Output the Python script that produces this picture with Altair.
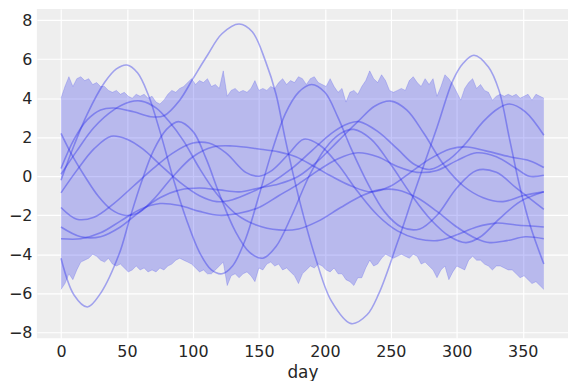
import altair as alt
import pandas as pd

# ---- band (noisy interval), one value every 3 days ----
band_days = list(range(0, 367, 3))
band_upper = [
    4.0, 4.6, 5.1, 4.6, 5.0, 5.1, 4.9, 5.0, 4.7, 4.8,
    4.6, 4.6, 4.4, 4.3, 4.4, 4.2, 4.3, 4.1, 4.0, 4.2,
    4.1, 4.2, 4.0, 4.1, 3.8, 3.7, 3.9, 4.2, 4.4, 4.3,
    4.5, 4.6, 4.8, 5.0, 4.7, 4.9, 4.8, 5.0, 4.6, 4.7,
    4.5, 5.4, 4.1, 4.4, 4.5, 4.3, 4.4, 4.3, 4.5, 4.9,
    4.4, 4.5, 4.4, 4.6, 4.5, 4.8, 5.0, 4.7, 4.9, 4.8,
    5.1, 5.0, 4.7, 5.0, 5.1, 4.8, 4.7, 4.6, 5.0, 4.6,
    4.3, 4.5, 3.8, 4.3, 4.4, 4.2, 4.6, 4.9, 5.4, 5.0,
    4.8, 5.2, 4.9, 4.4, 4.3, 4.4, 4.5, 4.4, 4.9, 5.1,
    4.8, 4.6, 5.0, 4.7, 5.0, 4.1, 4.6, 5.2, 5.0, 4.7,
    4.3, 3.9, 4.5, 4.8, 5.0, 4.5, 4.7, 4.4, 4.3, 3.9,
    4.1, 4.2, 4.1, 4.2, 4.1, 4.2, 4.0, 4.1, 4.2, 3.9,
    4.2, 4.1, 4.0,
]
band_lower = [
    -5.8, -5.5, -5.0, -5.3, -4.8, -4.4, -4.3, -4.2, -4.0, -4.1,
    -4.3, -4.4, -4.2, -4.5, -4.6, -4.5, -4.7, -4.9, -4.8, -4.6,
    -4.8, -4.7, -4.9, -4.8, -4.9, -4.7, -4.8, -4.6, -4.5, -4.3,
    -4.2, -4.3, -4.4, -4.5, -4.7, -4.9, -4.8, -5.0, -5.0, -4.8,
    -4.6, -4.4, -5.6, -5.1, -5.0, -5.2, -5.0, -4.9, -5.1, -5.4,
    -4.7, -4.8, -4.5, -4.4, -4.6, -4.5, -4.8, -4.7, -4.9, -5.1,
    -5.5, -5.0, -4.8, -4.6, -4.7, -4.5, -4.6, -4.8, -4.9, -4.7,
    -5.0, -5.0, -5.3, -5.4, -5.6, -5.2, -5.2, -4.7, -4.3, -4.6,
    -4.5, -4.2, -4.0, -4.1, -4.2, -4.1, -4.0, -4.1, -4.2, -4.0,
    -4.1, -4.5, -4.4, -4.6, -4.8, -5.2, -4.8, -4.6, -5.3, -4.9,
    -4.6, -4.7, -4.8, -4.3, -4.1, -4.3, -4.3, -4.5, -4.6, -4.8,
    -4.6, -4.6, -4.7, -4.8, -4.8, -5.0, -5.2, -5.1, -5.3, -5.5,
    -5.4, -5.6, -5.8,
]

# ---- smooth sample curves: (day, value) knots ----
s1 = [(0, 0.4), (10, 1.9), (20, 2.9), (30, 3.4), (40, 3.5), (55, 3.3), (68, 3.05), (78, 3.1),
      (90, 3.9), (100, 5.0), (111, 6.2), (122, 7.3), (135, 7.8), (145, 7.4), (155, 5.9),
      (163, 4.2), (170, 1.9), (181, -1.3), (193, -4.2), (205, -6.4), (220, -7.55), (232, -7.1),
      (241, -6.0), (255, -3.4), (268, -0.8), (285, 2.5), (297, 4.9), (305, 5.8), (313, 6.2),
      (324, 5.6), (332, 4.4), (340, 1.9), (348, -0.6), (356, -2.6), (366, -4.5)]
s2 = [(0, -4.2), (10, -6.1), (20, -6.7), (30, -6.0), (44, -4.0), (52, -2.2), (61, -0.3),
      (70, 1.3), (80, 2.4), (89, 2.8), (100, 2.3), (110, 0.9), (120, -0.9), (132, -2.8),
      (143, -3.9), (153, -4.2), (163, -3.6), (175, -2.0), (188, 0.0), (200, 1.4), (212, 2.2),
      (222, 2.4), (235, 1.9), (250, 0.6), (265, -0.9), (280, -2.2), (295, -3.1), (307, -3.4),
      (318, -3.1), (332, -2.2), (348, -1.3), (366, -0.8)]
s3 = [(0, -0.2), (10, 1.6), (20, 3.2), (33, 4.8), (42, 5.5), (50, 5.7), (58, 5.3), (66, 4.2),
      (75, 2.3), (85, -0.1), (95, -2.2), (105, -3.9), (114, -4.8), (122, -5.0), (130, -4.6),
      (140, -3.2), (150, -1.0), (160, 1.3), (170, 3.2), (180, 4.3), (190, 4.7), (200, 4.3),
      (210, 3.0), (220, 1.4), (232, -0.3), (245, -1.8), (258, -2.6), (272, -2.7), (285, -2.0),
      (300, -0.6), (315, 0.3), (330, 0.2), (345, -0.6), (366, -1.7)]
s4 = [(0, 2.2), (9, 1.0), (18, 0.0), (28, -1.0), (38, -1.7), (48, -2.0), (58, -1.9), (70, -1.2),
      (85, 0.0), (100, 1.0), (115, 1.5), (130, 1.55), (150, 1.4), (165, 1.25), (178, 1.0),
      (192, 0.5), (205, 0.0), (220, -0.5), (235, -0.8), (250, -0.5), (265, 0.2), (280, 0.9),
      (295, 1.4), (308, 1.5), (322, 1.3), (340, 1.0), (355, 0.8), (366, 0.45)]
s5 = [(0, 0.1), (12, 1.3), (25, 2.5), (40, 3.4), (52, 3.8), (61, 3.85), (72, 3.5), (82, 2.8),
      (93, 1.8), (105, 0.4), (118, -0.9), (132, -1.9), (148, -2.5), (165, -2.75), (180, -2.7),
      (195, -2.3), (212, -1.6), (228, -1.0), (241, -0.7), (255, -0.7), (270, -1.1), (285, -1.8),
      (300, -2.6), (315, -3.2), (325, -3.4), (338, -3.3), (352, -3.1), (366, -3.2)]
s6 = [(0, -0.85), (12, 0.3), (25, 1.4), (38, 2.05), (50, 1.9), (62, 1.4), (75, 0.6), (90, -0.3),
      (105, -1.0), (118, -1.3), (130, -1.2), (145, -0.8), (160, -0.3), (175, 0.4), (190, 1.3),
      (205, 2.2), (218, 2.7), (226, 2.8), (240, 2.3), (255, 1.4), (268, 0.6), (280, 0.35),
      (295, 0.9), (307, 1.7), (320, 2.8), (332, 3.5), (340, 3.7), (352, 3.3), (366, 2.1)]
s7 = [(0, -2.6), (15, -3.1), (30, -3.1), (45, -2.6), (60, -1.8), (75, -1.1), (90, -0.7),
      (105, -0.6), (120, -0.7), (135, -0.8), (150, -0.6), (165, -0.4), (180, 0.0), (195, 0.8),
      (210, 1.8), (225, 2.8), (238, 3.6), (250, 3.85), (262, 3.4), (275, 2.2), (290, 0.6),
      (305, -0.5), (320, -1.1), (335, -1.3), (350, -1.0), (366, -0.8)]
s8 = [(0, -1.6), (12, -2.2), (25, -2.1), (40, -1.4), (55, -0.5), (70, 0.4), (85, 1.2), (100, 1.7),
      (112, 1.7), (125, 1.2), (140, 0.2), (150, 0.0), (160, 0.3), (172, 1.1), (184, 1.9),
      (196, 1.6), (210, 0.6), (225, -0.8), (240, -2.0), (255, -2.8), (270, -3.2), (285, -3.3),
      (300, -3.0), (315, -2.6), (330, -2.4), (345, -2.5), (366, -2.6)]
s9 = [(0, -3.2), (15, -3.2), (30, -2.9), (45, -2.3), (60, -1.7), (75, -1.4), (90, -1.5),
      (105, -1.8), (120, -2.0), (135, -1.9), (150, -1.6), (165, -1.0), (180, -0.4), (195, 0.3),
      (210, 0.9), (225, 1.2), (240, 1.0), (255, 0.5), (270, 0.2), (285, 0.3), (300, 0.8),
      (315, 1.2), (330, 1.0), (345, 0.4), (355, 0.0), (366, 0.05)]
samples = [s1, s2, s3, s4, s5, s6, s7, s8, s9]

x_ticks = [0, 50, 100, 150, 200, 250, 300, 350]
y_ticks = [-8, -6, -4, -2, 0, 2, 4, 6, 8]

band_df = pd.DataFrame({"day": band_days, "upper": band_upper, "lower": band_lower})
rows = []
for i, s in enumerate(samples):
    for d, v in s:
        rows.append({"sample": i, "day": d, "value": v})
lines_df = pd.DataFrame(rows)

BLUE = "#2a2eec"
xscale = alt.Scale(domain=[-18.3, 384.3], nice=False, zero=False)
yscale = alt.Scale(domain=[-8.3, 8.57], nice=False, zero=False)
xaxis = alt.Axis(values=x_ticks, title="day", format="d")
yaxis = alt.Axis(values=y_ticks, title=None, format="d")

band = alt.Chart(band_df).mark_area(color=BLUE, opacity=0.27).encode(
    x=alt.X("day:Q", scale=xscale, axis=xaxis),
    y=alt.Y("upper:Q", scale=yscale, axis=yaxis),
    y2="lower:Q",
)
edge_up = alt.Chart(band_df).mark_line(color=BLUE, opacity=0.2, strokeWidth=1).encode(
    x=alt.X("day:Q", scale=xscale, axis=xaxis),
    y=alt.Y("upper:Q", scale=yscale, axis=yaxis),
)
edge_lo = alt.Chart(band_df).mark_line(color=BLUE, opacity=0.2, strokeWidth=1).encode(
    x=alt.X("day:Q", scale=xscale, axis=xaxis),
    y=alt.Y("lower:Q", scale=yscale, axis=yaxis),
)
lines = alt.Chart(lines_df).mark_line(
    color=BLUE, opacity=0.4, strokeWidth=1.6, interpolate="catmull-rom"
).encode(
    x=alt.X("day:Q", scale=xscale, axis=xaxis),
    y=alt.Y("value:Q", scale=yscale, axis=yaxis),
    detail="sample:N",
)

chart = (
    alt.layer(band, edge_up, edge_lo, lines)
    .properties(width=534, height=331, padding={"left": 0, "top": 0, "right": 0, "bottom": 0})
    .configure_view(fill="#EEEEEE", stroke=None)
    .configure_axis(
        grid=True, gridColor="white", gridWidth=1.2, gridOpacity=1,
        domain=False, ticks=False,
        labelFont="DejaVu Sans", labelFontSize=16, labelColor="#262626", labelPadding=5,
        titleFont="DejaVu Sans", titleFontSize=17, titleFontWeight="normal",
        titleColor="#262626", titlePadding=5,
    )
)

chart.save("out.html", embed_options={"renderer": "svg", "actions": False})
